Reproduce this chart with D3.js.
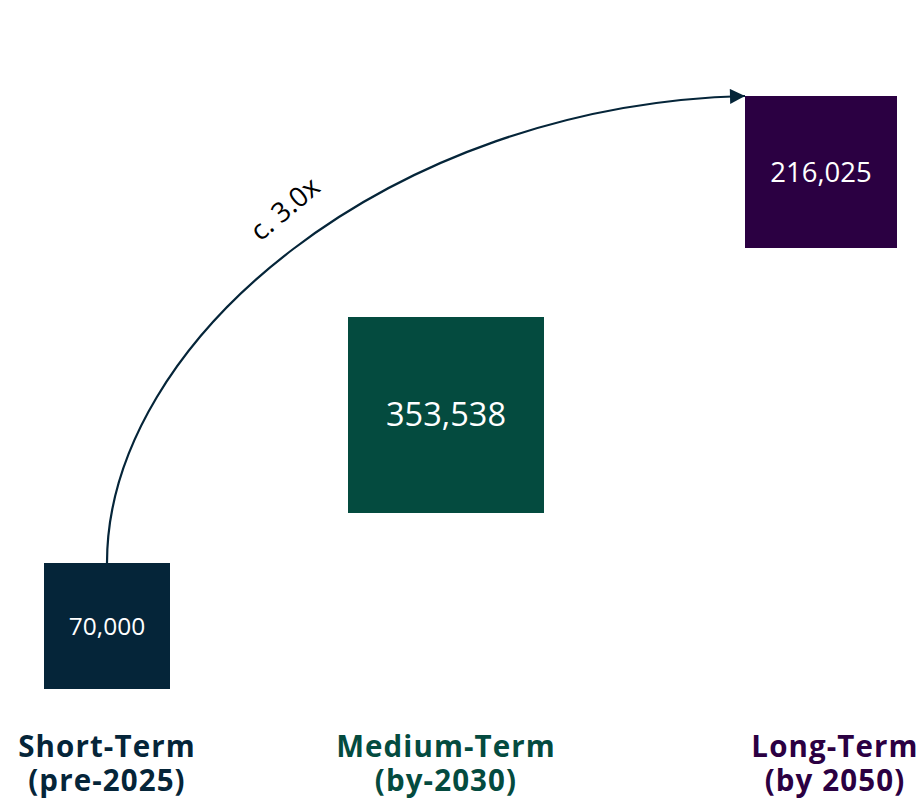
<!DOCTYPE html>
<html>
<head>
<meta charset="utf-8">
<script src="https://cdn.jsdelivr.net/npm/d3@7"></script>
<style>
  body { margin: 0; background: #fff; }
  svg { display: block; font-family: 'Open Sans', sans-serif; }
</style>
</head>
<body>
<div id="chart"></div>
<script>
// data
const categories = ['Short-Term', 'Medium-Term', 'Long-Term'];
const subLabels = ['(pre-2025)', '(by-2030)', '(by 2050)'];
const values = [70000, 353538, 216025];
const growthLabel = 'c. 3.0x';

const width = 924;
const height = 804;
const colors = ['#052539', '#044b3f', '#2b0042'];

const svg = d3.select('#chart')
  .append('svg')
  .attr('width', width)
  .attr('height', height);

// square side from value
const sizeScale = d3.scaleLinear()
  .domain([70000, 216025, 353538])
  .range([126, 152, 196]);

const xScale = d3.scaleOrdinal().domain(categories).range([107, 446, 821]);
const yScale = d3.scaleOrdinal().domain(categories).range([626, 415, 172]);
const labelX = d3.scaleOrdinal().domain(categories).range([107, 446, 835]);
const color = d3.scaleOrdinal().domain(categories).range(colors);

const data = categories.map((c, i) => ({ cat: c, sub: subLabels[i], value: values[i] }));

// arrow marker
svg.append('defs').append('marker')
  .attr('id', 'arrow')
  .attr('viewBox', '0 0 10 10')
  .attr('refX', 10)
  .attr('refY', 5)
  .attr('markerUnits', 'userSpaceOnUse')
  .attr('markerWidth', 16)
  .attr('markerHeight', 15)
  .attr('orient', 'auto')
  .append('path')
  .attr('d', 'M0,0 L10,5 L0,10 Z')
  .attr('fill', '#052539');

// growth arc from first square to last square
const first = data[0];
const last = data[2];
const x0 = xScale(first.cat);
const y0 = yScale(first.cat) - sizeScale(first.value) / 2;
const x3 = xScale(last.cat) - sizeScale(last.value) / 2;
const y3 = yScale(last.cat) - sizeScale(last.value) / 2;
const arc = d3.path();
arc.moveTo(x0, y0);
arc.bezierCurveTo(x0, y0 - 223, x0 + 283, y3 + 9, x3, y3);

svg.append('path')
  .attr('d', arc.toString())
  .attr('fill', 'none')
  .attr('stroke', '#052539')
  .attr('stroke-width', 2.2)
  .attr('marker-end', 'url(#arrow)');

svg.append('text')
  .attr('transform', 'translate(291,216) rotate(-40)')
  .attr('text-anchor', 'middle')
  .attr('font-size', 27.5)
  .attr('fill', '#000')
  .text(growthLabel);

// squares
const boxes = svg.selectAll('.box')
  .data(data)
  .enter()
  .append('g')
  .attr('class', 'box');

boxes.append('rect')
  .attr('x', d => xScale(d.cat) - sizeScale(d.value) / 2)
  .attr('y', d => yScale(d.cat) - sizeScale(d.value) / 2)
  .attr('width', d => sizeScale(d.value))
  .attr('height', d => sizeScale(d.value))
  .attr('fill', d => color(d.cat));

boxes.append('text')
  .attr('x', d => xScale(d.cat))
  .attr('y', d => yScale(d.cat))
  .attr('dy', '0.35em')
  .attr('text-anchor', 'middle')
  .attr('fill', '#fff')
  .attr('font-size', d => 10 + sizeScale(d.value) * 0.115)
  .text(d => d3.format(',')(d.value));

// category labels
const labels = svg.selectAll('.cat-label')
  .data(data)
  .enter()
  .append('text')
  .attr('class', 'cat-label')
  .attr('text-anchor', 'middle')
  .attr('font-size', 29.5)
  .attr('font-weight', 700)
  .attr('letter-spacing', 1.1)
  .attr('fill', d => color(d.cat));

labels.append('tspan')
  .attr('x', d => labelX(d.cat))
  .attr('y', 757)
  .text(d => d.cat);

labels.append('tspan')
  .attr('x', d => labelX(d.cat))
  .attr('y', 791)
  .text(d => d.sub);
</script>
</body>
</html>
